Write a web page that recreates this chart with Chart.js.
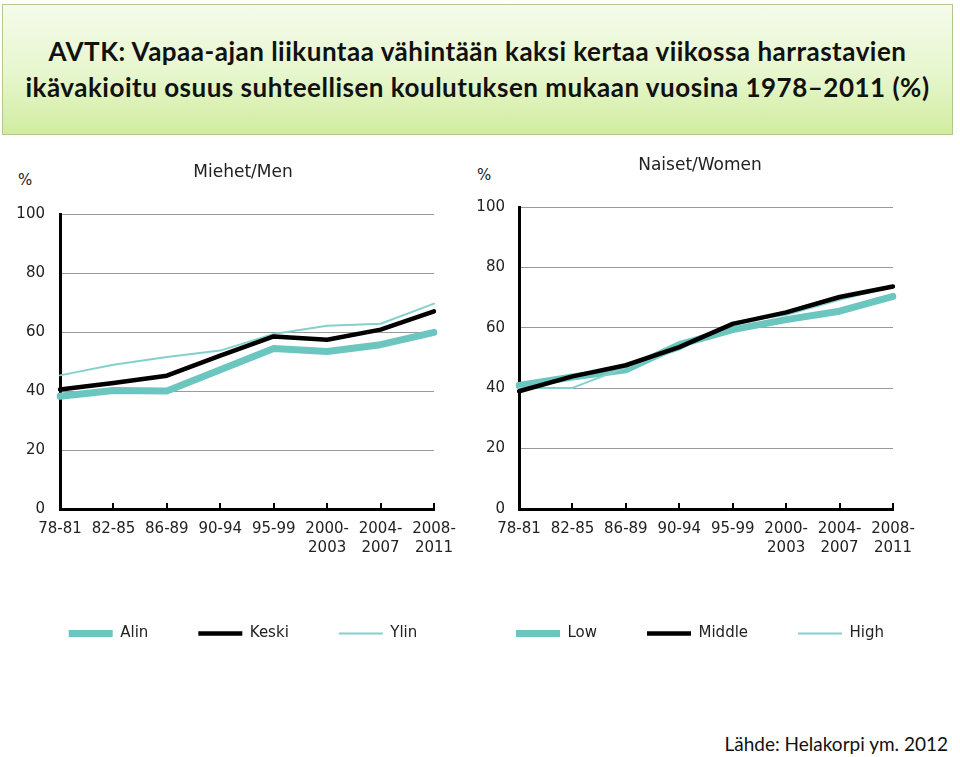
<!DOCTYPE html>
<html>
<head>
<meta charset="utf-8">
<script src="https://cdn.jsdelivr.net/npm/chart.js@4/dist/chart.umd.min.js"></script>
<style>
  body { margin: 0; background: #fff; width: 960px; height: 757px; position: relative; overflow: hidden; }
  #titleBox {
    position: absolute; left: 2px; top: 4px; width: 951px; height: 131px;
    border: 1px solid #b3c98c;
    background: linear-gradient(to bottom, #f5fbeb 0%, #e6f6cc 55%, #d1eca0 100%);
    font-family: Lato, sans-serif; font-weight: bold; font-size: 26px; line-height: 36px;
    letter-spacing: 0.5px;
    color: #111; text-align: center; box-sizing: border-box; padding-top: 28px;
  }
  .pct { position: absolute; font-family: "DejaVu Sans", sans-serif; font-size: 15px; line-height: 15px; color: #222; }
  canvas { position: absolute; top: 140px; }
  #menChart { left: 0px; width: 486px; height: 530px; }
  #womenChart { left: 460px; width: 480px; height: 530px; }
  #source { position: absolute; right: 12px; top: 734px; font-family: Lato, sans-serif; font-size: 19px; line-height: 19px; color: #111; }
</style>
</head>
<body>
<div id="titleBox">AVTK: Vapaa-ajan liikuntaa vähintään kaksi kertaa viikossa harrastavien<br>ikävakioitu osuus suhteellisen koulutuksen mukaan vuosina 1978–2011 (%)</div>
<span class="pct" style="left:18px; top:173px;">%</span>
<span class="pct" style="left:477px; top:168px;">%</span>
<canvas id="menChart" width="486" height="530"></canvas>
<canvas id="womenChart" width="480" height="530"></canvas>
<div id="source">Lähde: Helakorpi ym. 2012</div>

<script>
// periods on the x axis
var periods = ['78-81', '82-85', '86-89', '90-94', '95-99', ['2000-', '2003'], ['2004-', '2007'], ['2008-', '2011']];
var yTicks = [0, 20, 40, 60, 80, 100];

// Miehet / Men
var alinMen  = [38.2, 40.2, 40.0, 47.2, 54.4, 53.4, 55.7, 59.9];
var keskiMen = [40.5, 42.7, 45.2, 52.0, 58.5, 57.4, 60.8, 67.0];
var ylinMen  = [45.3, 48.9, 51.5, 53.7, 59.3, 62.1, 62.8, 69.6];

// Naiset / Women
var lowWomen    = [40.9, 43.7, 46.1, 54.4, 59.4, 62.7, 65.5, 70.4];
var middleWomen = [39.0, 43.9, 47.6, 53.6, 61.3, 65.1, 70.2, 73.7];
var highWomen   = [40.1, 40.1, 46.9, 52.8, 61.8, 64.3, 69.3, 73.7];

Chart.defaults.font.family = "'DejaVu Sans', sans-serif";
Chart.defaults.color = '#222';

var thickTeal = '#6cc6c0';
var thinTeal = '#84d1cc';

function series(label, data, color, width, order) {
    return {
        label: label,
        data: data,
        borderColor: color,
        backgroundColor: color,
        borderWidth: width,
        pointRadius: 0,
        pointHoverRadius: 0,
        pointStyle: 'line',
        tension: 0,
        fill: false,
        borderCapStyle: 'round',
        borderJoinStyle: 'round',
        order: order
    };
}

function makeChart(id, title, titleTop, yWidth, yPad, rightPad, names, values) {
    var ctx = document.getElementById(id).getContext('2d');
    return new Chart(ctx, {
        type: 'line',
        data: {
            labels: periods,
            datasets: [
                series(names[0], values[0], thickTeal, 7, 2),
                series(names[1], values[1], '#000000', 4.5, 0),
                series(names[2], values[2], thinTeal, 2, 1)
            ]
        },
        options: {
            responsive: false,
            animation: false,
            layout: { padding: { top: 0, left: 0, right: 0, bottom: 19 } },
            plugins: {
                tooltip: { enabled: false },
                title: {
                    display: true,
                    text: title,
                    color: '#222',
                    font: { size: 17, weight: 'normal' },
                    padding: { top: titleTop, bottom: 31.6 }
                },
                legend: {
                    position: 'bottom',
                    labels: {
                        usePointStyle: true,
                        pointStyleWidth: 44,
                        padding: 50,
                        color: '#222',
                        font: { size: 15 },
                        sort: function (a, b) { return a.datasetIndex - b.datasetIndex; }
                    }
                }
            },
            scales: {
                x: {
                    offset: false,
                    grid: {
                        drawOnChartArea: false,
                        drawTicks: true,
                        tickLength: -6,
                        color: '#000',
                        lineWidth: 2
                    },
                    border: { color: '#000', width: 3 },
                    ticks: {
                        autoSkip: false,
                        maxRotation: 0,
                        padding: 17,
                        color: '#222',
                        font: { size: 15, lineHeight: 1.27 }
                    },
                    afterFit: function (s) { s.height = 67; }
                },
                y: {
                    min: 0,
                    max: 100,
                    afterBuildTicks: function (s) {
                        s.ticks = yTicks.map(function (v) { return { value: v }; });
                    },
                    grid: {
                        drawTicks: false,
                        lineWidth: 1,
                        color: function (c) { return c.tick && c.tick.value === 0 ? 'rgba(0,0,0,0)' : '#9a9a9a'; }
                    },
                    border: { color: '#000', width: 3 },
                    ticks: { padding: yPad, color: '#222', font: { size: 15 } },
                    afterFit: function (s) { s.width = yWidth; }
                },
                pad: {
                    type: 'linear',
                    position: 'right',
                    display: true,
                    grid: { display: false },
                    border: { display: false },
                    ticks: { display: false },
                    afterFit: function (s) { s.width = rightPad; }
                }
            }
        }
    });
}

makeChart('menChart', 'Miehet/Men', 22, 60, 15, 52,
    ['Alin', 'Keski', 'Ylin'], [alinMen, keskiMen, ylinMen]);
makeChart('womenChart', 'Naiset/Women', 15, 59, 14, 47,
    ['Low', 'Middle', 'High'], [lowWomen, middleWomen, highWomen]);
</script>
</body>
</html>
